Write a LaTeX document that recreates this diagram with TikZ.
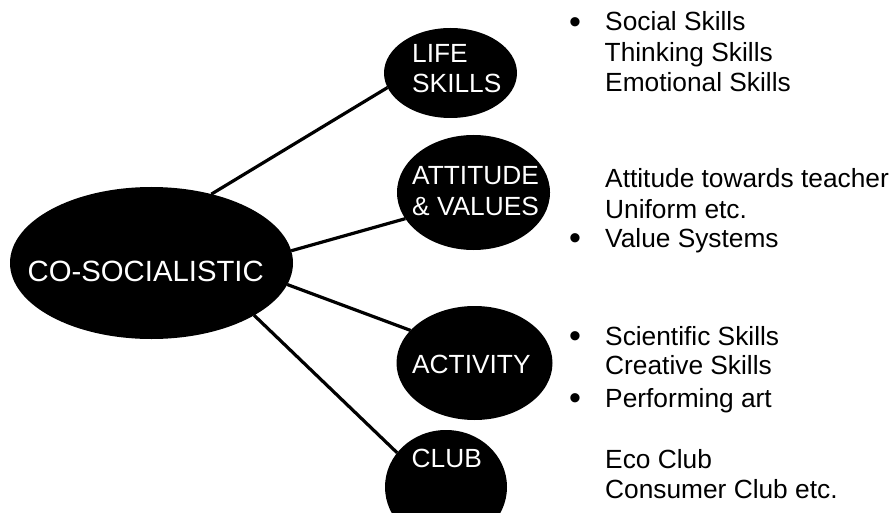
\documentclass[tikz,border=0pt]{standalone}
\usepackage{fontspec}
\setmainfont{Liberation Sans}
\usetikzlibrary{shapes.geometric}
\begin{document}
\begin{tikzpicture}[x=1pt,y=-1pt,
  blob/.style={ellipse,fill=black,draw=none,inner sep=0pt,outer sep=0pt},
  intext/.style={anchor=base west,inner sep=0pt,text=white,font=\fontsize{26.3}{30}\selectfont},
  bigtext/.style={anchor=base west,inner sep=0pt,text=white,font=\fontsize{29.3}{33}\selectfont},
  item/.style={anchor=base west,inner sep=0pt,text=black,font=\fontsize{26.3}{30}\selectfont},
  dot/.style={anchor=base,inner sep=0pt,text=black,font=\fontsize{34}{36}\selectfont},
  link/.style={line width=3.2pt,draw=black}]
\useasboundingbox (0,0) rectangle (896,513);
\begin{scope}
\clip (0,0) rectangle (896,513);
% ellipses
\node[blob,minimum width=283pt,minimum height=152pt] (main) at (151.5,263) {};
\node[blob,minimum width=133pt,minimum height=90pt] (life) at (450.5,73) {};
\node[blob,minimum width=153pt,minimum height=115pt] (att) at (473.5,192.5) {};
\node[blob,minimum width=156pt,minimum height=114pt] (act) at (474.5,363) {};
\node[blob,minimum width=122pt,minimum height=114pt] (club) at (446,487) {};
% connectors
\draw[link] (main.49.5) -- (life.193.6);
\draw[link] (main.5.3) -- (att.201.5);
\draw[link] (main.-9.6) -- (act.153.6);
\draw[link] (main.-27.4) -- (club.145);
\end{scope}
% texts in ellipses
\node[bigtext] (tmain) at (27.5,281) {CO-SOCIALISTIC};
\node[intext] (tlife1) at (412,63) {LIFE};
\node[intext] (tlife2) at (412,93) {SKILLS};
\node[intext] (tatt1) at (412,185) {ATTITUDE};
\node[intext] (tatt2) at (412,215) {\& VALUES};
\node[intext] (tact) at (412,373) {ACTIVITY};
\node[intext] (tclub) at (411.5,467) {CLUB};
% lists
\node[dot] (b1) at (575,33.5) {•};
\node[item] (l1) at (605,31) {Social Skills};
\node[item] (l2) at (604.5,62) {Thinking Skills};
\node[item] (l3) at (605,92) {Emotional Skills};
\node[item] (a1) at (605,188) {Attitude towards teacher};
\node[item] (a2) at (605,218) {Uniform etc.};
\node[dot] (b2) at (575,249.5) {•};
\node[item] (a3) at (605,247) {Value Systems};
\node[dot] (b3) at (575,347.5) {•};
\node[item] (c1) at (605,345) {Scientific Skills};
\node[item] (c2) at (605,374) {Creative Skills};
\node[dot] (b4) at (575,409.5) {•};
\node[item] (c3) at (605,407) {Performing art};
\node[item] (d1) at (605,468) {Eco Club};
\node[item] (d2) at (605,498) {Consumer Club etc.};
\end{tikzpicture}
\end{document}
